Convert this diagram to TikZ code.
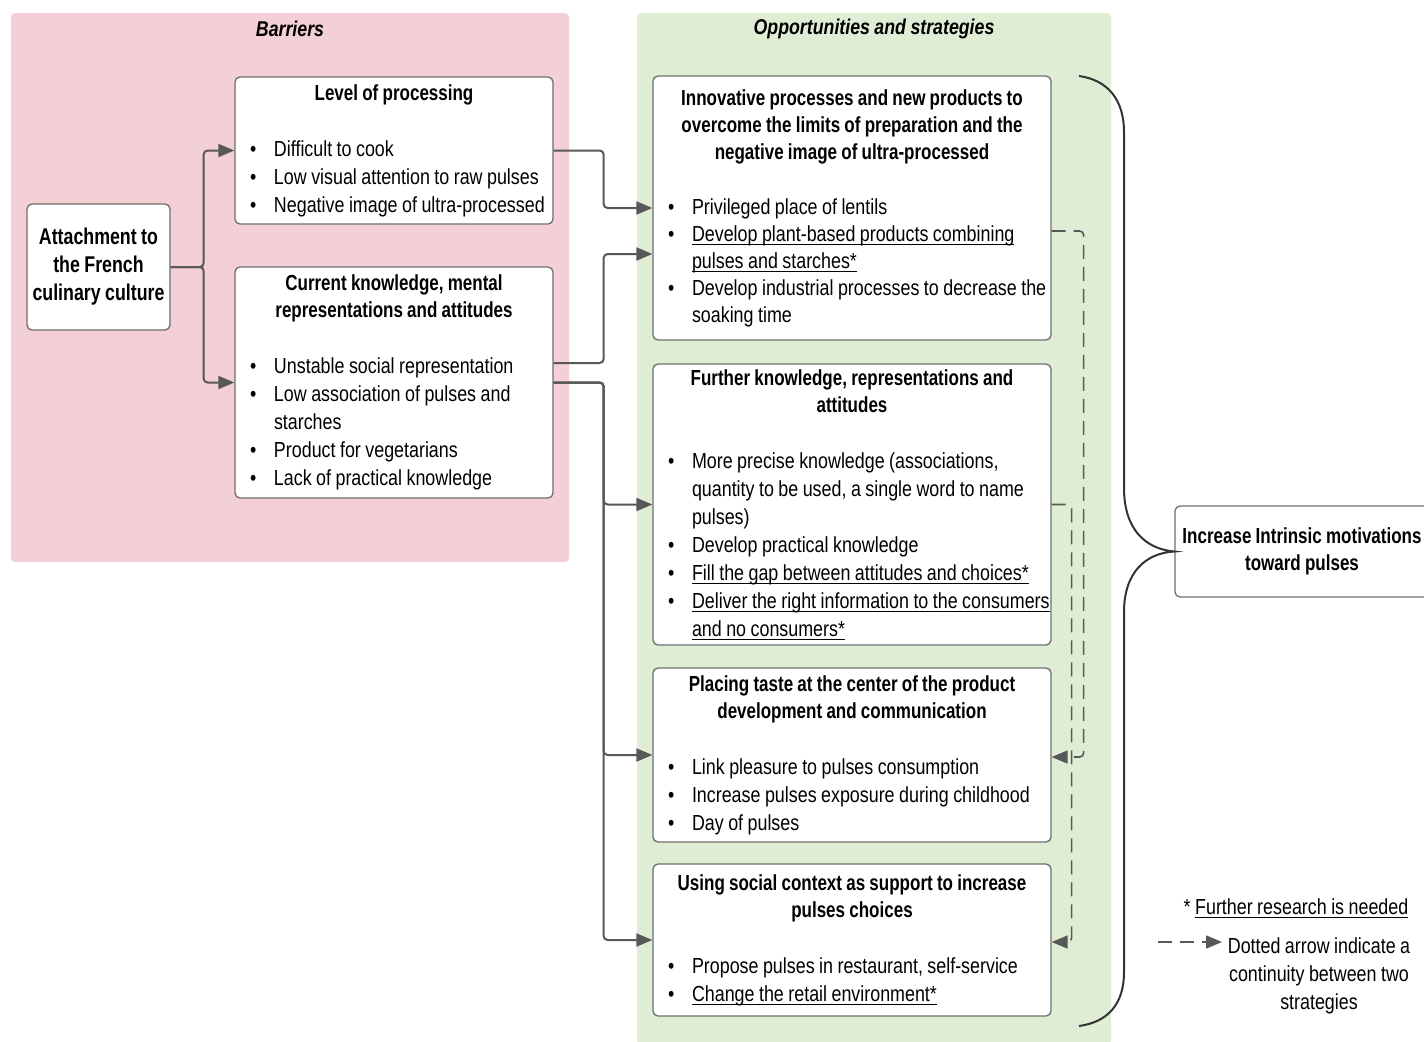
\documentclass[tikz,border=0pt]{standalone}
\usepackage{fontspec}
\setmainfont{Liberation Sans}[FakeStretch=0.82, WordSpace=0.9,
  BoldFeatures={FakeStretch=0.78, WordSpace=0.9},
  BoldItalicFeatures={FakeStretch=0.83, WordSpace=0.9}]
\usetikzlibrary{arrows.meta,calc}
\definecolor{pinkbg}{HTML}{F2D0D5}
\definecolor{greenbg}{HTML}{E0EDD5}
\definecolor{boxline}{HTML}{6E6E6E}
\definecolor{arrcol}{HTML}{585858}
\definecolor{bracecol}{HTML}{333333}
\newlength\bulind \setlength\bulind{19.5pt}
\newcommand\bul[1]{\noindent\hangindent=\bulind\hangafter=1\hbox to \bulind{\hspace{7.6pt}\textbullet\hss}#1\par}
\newcommand\boxtitle[1]{{\centering\bfseries\fontsize{10.9}{13.5}\selectfont #1\par}\vskip 14pt}
\newcommand\myul[1]{\leavevmode\setbox0\hbox{#1}\rlap{\rule[-1.9pt]{\wd0}{0.5pt}}\box0}
\begin{document}
\begin{tikzpicture}[x=0.5pt,y=-0.5pt,
  box/.style={draw=boxline, line width=0.65pt, fill=white, rounded corners=2.5pt,
    inner xsep=0pt, inner ysep=0pt, align=flush left, text=black,
    font=\fontsize{10.9}{14}\selectfont},
  arr/.style={draw=arrcol, line width=1pt, rounded corners=2pt,
    -{Triangle[length=8pt,width=6.5pt]}},
  dasharr/.style={draw=arrcol, line width=0.8pt, dash pattern=on 7pt off 4pt,
    rounded corners=2pt, -{Triangle[length=8pt,width=6.5pt]}},
  panel title/.style={font=\fontsize{10.7}{13.5}\selectfont\bfseries\itshape, text=black},
  legend/.style={font=\fontsize{10.9}{14}\selectfont, text=black, align=center}]
\useasboundingbox (0,0) rectangle (1424,1041);
% panels
\fill[pinkbg, rounded corners=2pt] (11,13) rectangle (569,562);
\fill[greenbg, rounded corners=2pt] (637,13) rectangle (1111,1045);
\node[panel title] (tbar) at (290,29) {Barriers};
\node[panel title] (topp) at (874,29) {Opportunities and strategies};

% barrier boxes
\node[box, align=center, font=\fontsize{11.4}{14}\selectfont\bfseries,
  minimum width=71.5pt, minimum height=63pt] (att) at (98.5,267)
  {Attachment to\\the French\\culinary culture};
\node[box, text width=159pt, minimum height=73.5pt] (lvl) at (394,150.5) {%
  \boxtitle{Level of processing}%
  \bul{Difficult to cook}%
  \bul{Low visual attention to raw pulses}%
  \bul{Negative image of ultra-processed}};
\node[box, text width=159pt, minimum height=115.5pt] (cur) at (394,382.5) {%
  \boxtitle{Current knowledge, mental\\representations and attitudes}%
  \bul{Unstable social representation}%
  \bul{Low association of pulses and\newline starches}%
  \bul{Product for vegetarians}%
  \bul{Lack of practical knowledge}};

% strategy boxes
\node[box, text width=199pt, minimum height=132pt,
  font=\fontsize{10.9}{13.5}\selectfont] (inn) at (852,208) {%
  \boxtitle{Innovative processes and new products to\\overcome the limits of preparation and the\\negative image of ultra-processed}%
  \bul{Privileged place of lentils}%
  \bul{\myul{Develop plant-based products combining}\newline\myul{pulses and starches*}}%
  \bul{Develop industrial processes to decrease the\newline soaking time}};
\node[box, text width=199pt, minimum height=140.5pt] (fur) at (852,504.5) {%
  \boxtitle{Further knowledge, representations and\\attitudes}%
  \bul{More precise knowledge (associations,\newline quantity to be used, a single word to name\newline pulses)}%
  \bul{Develop practical knowledge}%
  \bul{\myul{Fill the gap between attitudes and choices*}}%
  \bul{\myul{Deliver the right information to the consumers}\newline\myul{and no consumers*}}};
\node[box, text width=199pt, minimum height=87pt] (plc) at (852,755) {%
  \boxtitle{Placing taste at the center of the product\\development and communication}%
  \bul{Link pleasure to pulses consumption}%
  \bul{Increase pulses exposure during childhood}%
  \bul{Day of pulses}};
\node[box, text width=199pt, minimum height=76pt] (use) at (852,940) {%
  \boxtitle{Using social context as support to increase\\pulses choices}%
  \bul{Propose pulses in restaurant, self-service}%
  \bul{\myul{Change the retail environment*}}};

% outcome
\node[box, align=center, font=\fontsize{10.9}{13.5}\selectfont\bfseries,
  minimum width=127pt, minimum height=45.5pt] (inc) at (1302,551.5)
  {Increase Intrinsic motivations\\toward pulses};

% solid connectors
\draw[arr] (att.east) -- ++(16.5pt,0) |- (lvl.west);
\draw[arr] (att.east) -- ++(16.5pt,0) |- (cur.west);
\draw[arr] (lvl.east) -- ++(25pt,0) |- (inn.west);
\draw[arr] ([yshift=9.75pt]cur.east) -- ++(25pt,0) |- ([yshift=-23pt]inn.west);
\draw[arr] (cur.east) -- ++(25pt,0) |- (fur.west);
\draw[arr] (cur.east) -- ++(25pt,0) |- (plc.west);
\draw[arr] (cur.east) -- ++(25pt,0) |- (use.west);

% dashed connectors
\draw[dasharr] ([yshift=-11.5pt]inn.east) -| ([xshift=16pt,yshift=-1pt]plc.east) -- ([yshift=-1pt]plc.east);
\draw[dasharr] (fur.east) -| ([xshift=10pt,yshift=-1pt]use.east) -- ([yshift=-1pt]use.east);

% brace
\draw[bracecol, line width=1pt]
  (1079,76) .. controls (1108,80) and (1124,100) .. (1124,132)
  -- (1124,488) .. controls (1124,530) and (1146,549) .. (inc.west)
  .. controls (1146,553) and (1124,572) .. (1124,612)
  -- (1124,972) .. controls (1124,1004) and (1108,1022) .. (1079,1026);

% legend
\node[legend] (fr) at (1296,908) {* \myul{Further research is needed}};
\coordinate (ls) at (1158,942);
\coordinate (le) at (1222,942);
\draw[dasharr] (ls) -- (le);
\node[legend] (dl) at (1319,976) {Dotted arrow indicate a\\continuity between two\\strategies};
\end{tikzpicture}
\end{document}
